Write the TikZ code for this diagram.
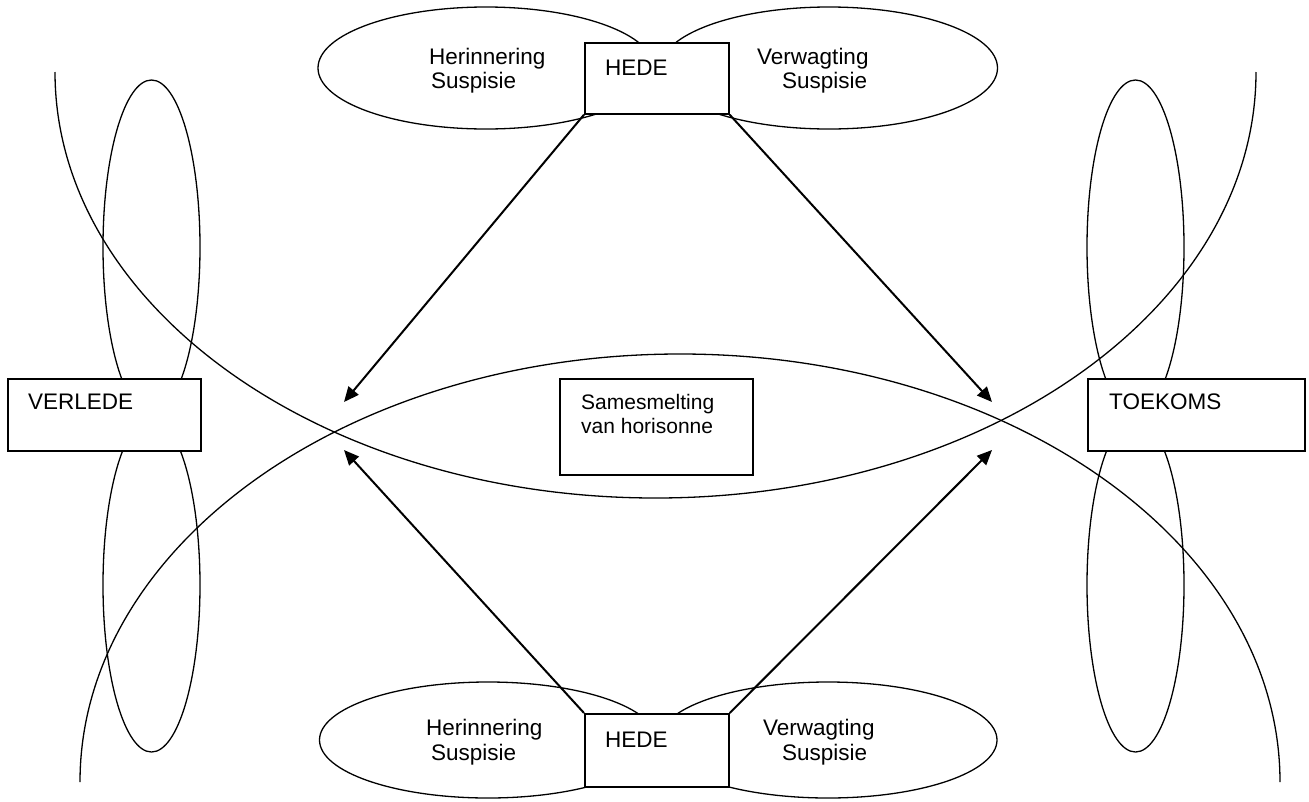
\documentclass[tikz,border=0pt]{standalone}
\usepackage{fontspec}
\setmainfont{Liberation Sans}
\usetikzlibrary{shapes.geometric,arrows.meta}
\begin{document}
\begin{tikzpicture}[x=1pt,y=-1pt,
  thinline/.style={line width=1.3pt},
  oval/.style={ellipse,draw,thinline,inner sep=0pt},
  boxnode/.style={rectangle,draw,fill=white,line width=1.7pt,inner sep=0pt,anchor=north west},
  lbl/.style={font=\fontsize{22.5}{27}\selectfont,inner sep=0pt,anchor=base west},
  smalllbl/.style={font=\fontsize{21}{25}\selectfont,inner sep=0pt,anchor=base west},
  arrowline/.style={line width=2pt,-{Triangle[length=15pt,width=13pt]}}]
\useasboundingbox (0,0) rectangle (1309,801);
\fill[white] (0,0) rectangle (1309,801);

% big arcs
\draw[thinline] (55,72) coordinate (smileL) arc[start angle=180,end angle=0,x radius=600.5,y radius=426] coordinate (smileR);
\draw[thinline] (80,782) coordinate (frownL) arc[start angle=180,end angle=360,x radius=600,y radius=428] coordinate (frownR);

% vertical ellipses
\node[oval,minimum width=97pt,minimum height=334pt] (vlu) at (151.5,247) {};
\node[oval,minimum width=97pt,minimum height=334pt] (vld) at (151.5,585) {};
\node[oval,minimum width=97pt,minimum height=334pt] (vru) at (1135.5,247) {};
\node[oval,minimum width=97pt,minimum height=334pt] (vrd) at (1135.5,585) {};

% horizontal ellipses
\node[oval,minimum width=336pt,minimum height=122pt] (etl) at (486,68) {};
\node[oval,minimum width=337pt,minimum height=122pt] (etr) at (829,68) {};
\node[oval,minimum width=337pt,minimum height=116pt] (ebl) at (488,740) {};
\node[oval,minimum width=338pt,minimum height=116pt] (ebr) at (828,740) {};

% boxes
\node[boxnode,minimum width=144pt,minimum height=71pt] (hedeT) at (584,42) {};
\node[boxnode,minimum width=144pt,minimum height=73pt] (hedeB) at (584,713) {};
\node[boxnode,minimum width=193pt,minimum height=72pt] (verlede) at (7,378) {};
\node[boxnode,minimum width=217pt,minimum height=72pt] (toekoms) at (1087,378) {};
\node[boxnode,minimum width=193pt,minimum height=96pt] (same) at (559,378) {};

% texts
\node[lbl] (tHerT) at (429,64) {Herinnering};
\node[lbl] (tSusTL) at (431,88) {Suspisie};
\node[lbl] (tHedeT) at (605,75) {HEDE};
\node[lbl] (tVerT) at (757,64) {Verwagting};
\node[lbl] (tSusTR) at (782,88) {Suspisie};

\node[lbl] (tHerB) at (426,735) {Herinnering};
\node[lbl] (tSusBL) at (431,760) {Suspisie};
\node[lbl] (tHedeB) at (605,747) {HEDE};
\node[lbl] (tVerB) at (763,735) {Verwagting};
\node[lbl] (tSusBR) at (782,760) {Suspisie};

\node[lbl] (tVerlede) at (28,409) {VERLEDE};
\node[lbl] (tToekoms) at (1109,409) {TOEKOMS};
\node[smalllbl] (tSame1) at (581,409) {Samesmelting};
\node[smalllbl] (tSame2) at (581,433) {van horisonne};

% arrows
\coordinate (tipTL) at (344,402);
\coordinate (tipTR) at (992,402);
\coordinate (tipBL) at (344,450);
\coordinate (tipBR) at (992,450);
\draw[arrowline] (hedeT.south west) -- (tipTL);
\draw[arrowline] (hedeT.south east) -- (tipTR);
\draw[arrowline] (hedeB.north west) -- (tipBL);
\draw[arrowline] (hedeB.north east) -- (tipBR);
\end{tikzpicture}
\end{document}
